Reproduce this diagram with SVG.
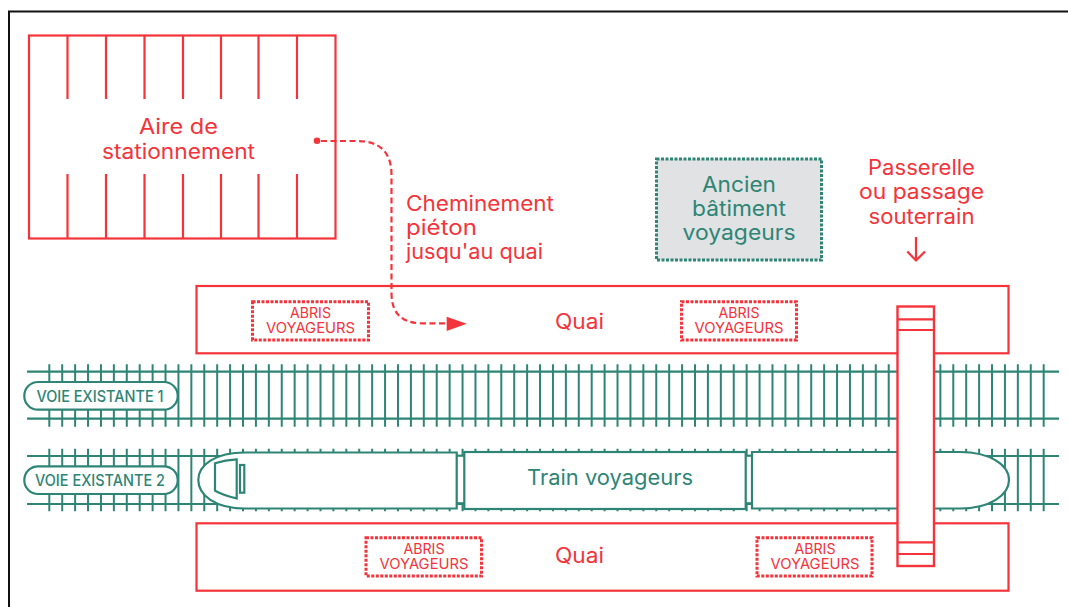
<svg xmlns="http://www.w3.org/2000/svg" width="1068" height="607" viewBox="0 0 1068 607">
<style>
.r{fill:none;stroke:#f4333a;stroke-width:2.2}
.rw{fill:#fff;stroke:#f4333a;stroke-width:2.4}
.g{fill:none;stroke:#2e8576;stroke-width:2.2}
.gw{fill:#fff;stroke:#2e8576;stroke-width:2.2}
.dr{fill:#fff;stroke:#f4333a;stroke-width:3;stroke-dasharray:3 1.500}
.dg{fill:#e0e2e3;stroke:#2e8576;stroke-width:3;stroke-dasharray:3 1.500}
.tie{stroke:#2e8576;stroke-width:62.4;stroke-dasharray:2 10.914;fill:none}
text{font-family:"Inter","Liberation Sans",sans-serif}
.tr{fill:#f4333a;font-size:21px}
.tg{fill:#2e8576;font-size:21px}
.m{text-anchor:middle}
.s{fill:#f4333a;font-size:14.500px;text-anchor:middle}
.v{fill:#2e8576;font-size:15.500px;font-weight:500;text-anchor:middle}
</style>
<rect width="1068" height="607" fill="#fff"/>
<path d="M9 607V11.500H1068" fill="none" stroke="#111" stroke-width="2"/>
<g id="parking">
<rect class="r" x="29" y="35.500" width="306.500" height="203"/>
<path class="r" d="M67.500 35V99M106 35V99M144.500 35V99M183 35V99M221 35V99M258.500 35V99M297 35V99M67.500 174V238M106 174V238M144.500 174V238M183 174V238M221 174V238M258.500 174V238M297 174V238"/>
<text class="tr m" x="178.500" y="134" textLength="79" lengthAdjust="spacingAndGlyphs">Aire de</text>
<text class="tr m" x="178.500" y="159" textLength="153" lengthAdjust="spacingAndGlyphs">stationnement</text>
</g>
<g id="quai-haut">
<rect class="r" x="196.500" y="286" width="812" height="67.300"/>
<text class="tr m" x="579.500" y="329" textLength="49" lengthAdjust="spacingAndGlyphs">Quai</text>
</g>
<g id="quai-bas">
<rect class="r" x="196.500" y="523.300" width="812" height="67.400"/>
<text class="tr m" x="579.500" y="563" textLength="49" lengthAdjust="spacingAndGlyphs">Quai</text>
</g>
<g id="abris-1"><rect class="dr" x="252.500" y="301.700" width="116" height="38.300"/><text class="s" x="310.500" y="317.700" textLength="41" lengthAdjust="spacingAndGlyphs">ABRIS</text><text class="s" x="310.500" y="332.700" textLength="89" lengthAdjust="spacingAndGlyphs">VOYAGEURS</text></g>
<g id="abris-2"><rect class="dr" x="681.500" y="301.700" width="115" height="38.300"/><text class="s" x="739" y="317.700" textLength="41" lengthAdjust="spacingAndGlyphs">ABRIS</text><text class="s" x="739" y="332.700" textLength="89" lengthAdjust="spacingAndGlyphs">VOYAGEURS</text></g>
<g id="abris-3"><rect class="dr" x="366" y="537.700" width="115.500" height="38.300"/><text class="s" x="424" y="554" textLength="41" lengthAdjust="spacingAndGlyphs">ABRIS</text><text class="s" x="424" y="569" textLength="89" lengthAdjust="spacingAndGlyphs">VOYAGEURS</text></g>
<g id="abris-4"><rect class="dr" x="757" y="537.700" width="115" height="38.300"/><text class="s" x="815" y="554" textLength="41" lengthAdjust="spacingAndGlyphs">ABRIS</text><text class="s" x="815" y="569" textLength="89" lengthAdjust="spacingAndGlyphs">VOYAGEURS</text></g>
<g id="ancien-batiment">
<rect class="dg" x="656.500" y="159" width="165" height="101"/>
<text class="tg m" x="739" y="191.500" textLength="74" lengthAdjust="spacingAndGlyphs">Ancien</text>
<text class="tg m" x="739" y="215.500" textLength="94" lengthAdjust="spacingAndGlyphs">bâtiment</text>
<text class="tg m" x="739" y="239.500" textLength="113" lengthAdjust="spacingAndGlyphs">voyageurs</text>
</g>
<g id="voie-1">
<line class="tie" x1="48.300" x2="1045" y1="395.500" y2="395.500"/>
<path class="g" d="M27 371.700H1059M27 418.700H1059"/>
<rect class="gw" x="24.300" y="382" width="153.400" height="27.700" rx="13.800"/>
<text class="v" x="100" y="401.700" textLength="127" lengthAdjust="spacingAndGlyphs">VOIE EXISTANTE 1</text>
</g>
<g id="voie-2">
<line class="tie" x1="48.300" x2="1045" y1="480" y2="480"/>
<path class="g" d="M27 456H1059M27 504H1059"/>
<rect class="gw" x="24.300" y="466.300" width="153.400" height="27.700" rx="13.800"/>
<text class="v" x="100" y="485.700" textLength="130" lengthAdjust="spacingAndGlyphs">VOIE EXISTANTE 2</text>
</g>
<g id="train">
<rect class="gw" x="456" y="455.700" width="9" height="47.600"/>
<rect class="gw" x="745" y="455.700" width="8" height="47.600"/>
<path class="gw" d="M456.700 452.500V508.500H245C215 508.500 198.300 495 198.300 480C198.300 465 215 452.500 245 452.500Z"/>
<rect class="gw" x="464.300" y="452" width="281.400" height="57"/>
<path class="gw" d="M752 452V508.500H960C990 508.500 1009 495 1009 480C1009 465 990 452 960 452Z"/>
<path class="g" d="M215 463.300Q225 460 236.700 459.300V498.300Q225 496 215 490.700Z"/>
<rect class="g" x="240" y="465" width="4.300" height="27.700"/>
<text class="tg m" x="610" y="485" textLength="166" lengthAdjust="spacingAndGlyphs">Train voyageurs</text>
</g>
<g id="passerelle">
<rect class="rw" x="897.500" y="306.500" width="36.500" height="259.500"/>
<path class="r" d="M897.500 319.300H934M897.500 330H934M897.500 542.300H934M897.500 554H934"/>
<text class="tr m" x="921.500" y="175" textLength="107" lengthAdjust="spacingAndGlyphs">Passerelle</text>
<text class="tr m" x="921.500" y="199" textLength="125" lengthAdjust="spacingAndGlyphs">ou passage</text>
<text class="tr m" x="921.500" y="224" textLength="106" lengthAdjust="spacingAndGlyphs">souterrain</text>
<path class="r" d="M916 237V260.500M907.300 251.500L916 260.500L925 251.500"/>
</g>
<g id="connecteurs">
<circle cx="317" cy="140.700" r="3.300" fill="#f4333a"/>
<path d="M321 141H357Q391.500 141 391.500 175V293Q391.500 323.300 422 323.300H448" fill="none" stroke="#f4333a" stroke-width="2.200" stroke-dasharray="6 3.500"/>
<path d="M446.700 316.700L466.700 323.800L446.700 331Z" fill="#f4333a"/>
</g>
<g id="cheminement">
<text class="tr" x="406" y="211" textLength="148" lengthAdjust="spacingAndGlyphs">Cheminement</text>
<text class="tr" x="406" y="235" textLength="71" lengthAdjust="spacingAndGlyphs">piéton</text>
<text class="tr" x="406" y="259" textLength="137" lengthAdjust="spacingAndGlyphs">jusqu'au quai</text>
</g>
</svg>
